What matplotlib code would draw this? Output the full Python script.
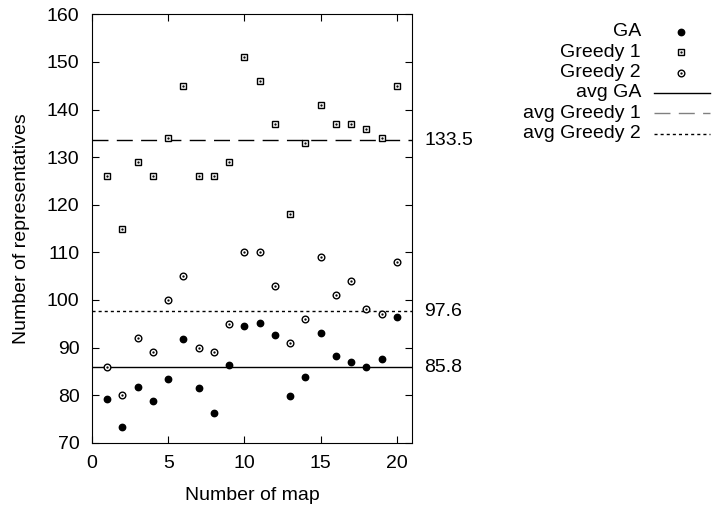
import matplotlib
matplotlib.use("Agg")
import matplotlib.pyplot as plt
from matplotlib.lines import Line2D

plt.rcParams["font.family"] = ["Liberation Sans", "DejaVu Sans"]

maps = list(range(1, 21))
ga = [79.2, 73.4, 81.6, 78.8, 83.4, 91.8, 81.5, 76.2, 86.3, 94.5,
      95.2, 92.6, 79.8, 83.7, 93.0, 88.2, 87.0, 86.0, 87.6, 96.4]
greedy1 = [126, 115, 129, 126, 134, 145, 126, 126, 129, 151,
           146, 137, 118, 133, 141, 137, 137, 136, 134, 145]
greedy2 = [86, 80, 92, 89, 100, 105, 90, 89, 95, 110,
           110, 103, 91, 96, 109, 101, 104, 98, 97, 108]
avg_labels = ["avg GA", "avg Greedy 1", "avg Greedy 2"]
avg_values = [85.8, 133.5, 97.6]

W, H = 714, 509
FS = 14

fig = plt.figure(figsize=(W / 100, H / 100), dpi=100)
ax = fig.add_axes([92 / W, 1 - 442.7 / H, 320 / W, 428.4 / H])

styles = ["-", (0, (11.5, 6)), (0, (2.2, 2.2))]
for val, ls in zip(avg_values, styles):
    ax.axhline(val, color="black", lw=1, linestyle=ls)
    ax.text(21.8, val, f"{val}", va="center", ha="left", fontsize=FS, clip_on=False)

ga_style = dict(marker="o", color="black", ms=4.6, ls="none")
g1_style = dict(marker="s", mfc="white", mec="black", mew=1.0, ms=4.9, ls="none")
g2_style = dict(marker="o", mfc="white", mec="black", mew=1.0, ms=4.8, ls="none")
dot_style = dict(marker=".", color="black", ms=1.3, ls="none")

ax.plot(maps, ga, **ga_style)
ax.plot(maps, greedy1, **g1_style)
ax.plot(maps, greedy1, **dot_style)
ax.plot(maps, greedy2, **g2_style)
ax.plot(maps, greedy2, **dot_style)

ax.set_xlim(0, 21)
ax.set_ylim(70, 160)
ax.set_xticks([0, 5, 10, 15, 20])
ax.set_yticks(range(70, 161, 10))
ax.tick_params(direction="in", top=True, right=True, length=5, labelsize=FS)
ax.tick_params(axis="x", pad=9)
ax.tick_params(axis="y", pad=9)
ax.set_xlabel("Number of map", fontsize=FS, va="center")
ax.set_ylabel("Number of representatives", fontsize=FS, va="center")
ax.xaxis.set_label_coords(0.5, (442.7 - 495) / 428.4)
ax.yaxis.set_label_coords((21.5 - 92) / 320, 0.5)

# gnuplot style key: right aligned text, sample to the right
rows = [31.7 + 20.4 * i for i in range(6)]
names = ["GA", "Greedy 1", "Greedy 2"] + avg_labels
for name, yp in zip(names, rows):
    fig.text(641 / W, 1 - yp / H, name, ha="right", va="center", fontsize=FS)

marker_styles = [ga_style, g1_style, g2_style]
for i, st in enumerate(marker_styles):
    y = 1 - rows[i] / H
    fig.add_artist(Line2D([681 / W], [y], transform=fig.transFigure, **st))
    if i > 0:
        fig.add_artist(Line2D([681 / W], [y], transform=fig.transFigure, **dot_style))
key_colors = ["black", "#808080", "black"]
for i, (ls, c) in enumerate(zip(styles, key_colors)):
    y = 1 - rows[3 + i] / H
    fig.add_artist(Line2D([654 / W, 710 / W], [y, y], transform=fig.transFigure,
                          color=c, lw=1, linestyle=ls))

fig.savefig("out.png", dpi=100)
